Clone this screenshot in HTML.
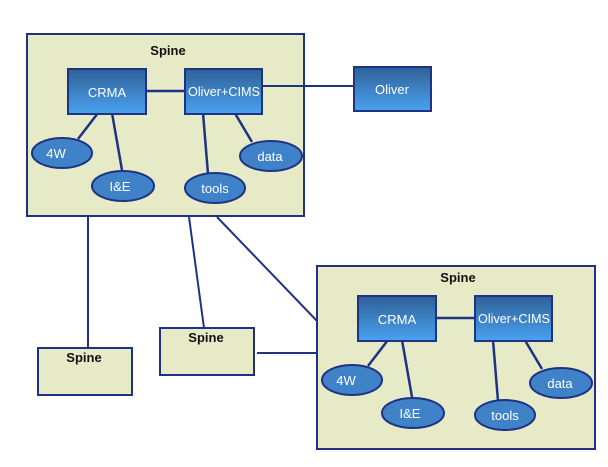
<!DOCTYPE html>
<html><head><style>body{margin:0;background:#fff}svg{display:block}</style></head><body>
<svg width="608" height="467" viewBox="0 0 608 467" xmlns="http://www.w3.org/2000/svg" font-family="Liberation Sans, sans-serif">
<defs>
<linearGradient id="g" x1="0" y1="0" x2="0" y2="1"><stop offset="0" stop-color="#2f6098"/><stop offset="1" stop-color="#4aa2f0"/></linearGradient>
</defs>
<g stroke="#1f3384" stroke-width="2" fill="none">
<line x1="88" y1="216" x2="88" y2="349"/>
<line x1="189" y1="217" x2="204" y2="328"/>
<line x1="217" y1="217" x2="318" y2="322"/>
<line x1="257" y1="353" x2="318" y2="353"/>
</g>
<g stroke="#1f3384" stroke-width="2" fill="#e7eac7">
<rect x="27" y="34" width="277" height="182"/>
<rect x="317" y="266" width="278" height="183"/>
<rect x="38" y="348" width="94" height="47"/>
<rect x="160" y="328" width="94" height="47"/>
</g>
<g font-weight="bold" font-size="13" text-anchor="middle" fill="#111">
<text x="168" y="55">Spine</text>
<text x="458" y="282">Spine</text>
<text x="84" y="362">Spine</text>
<text x="206" y="342">Spine</text>
</g>
<line x1="262" y1="86" x2="354" y2="86" stroke="#1f3384" stroke-width="2"/>
<rect x="354" y="67" width="77" height="44" fill="url(#g)" stroke="#1f3384" stroke-width="2"/>
<text x="392" y="94" text-anchor="middle" font-size="13" fill="#fff">Oliver</text>
<g id="c">
<g stroke="#1f3384" stroke-width="2.5">
<line x1="146" y1="91" x2="185" y2="91"/>
<line x1="98" y1="113" x2="78" y2="139"/>
<line x1="112" y1="113" x2="122" y2="170"/>
<line x1="203" y1="113" x2="208" y2="174"/>
<line x1="233" y1="110" x2="252" y2="142"/>
</g>
<rect x="68" y="69" width="78" height="45" fill="url(#g)" stroke="#1f3384" stroke-width="2"/>
<rect x="185" y="69" width="77" height="45" fill="url(#g)" stroke="#1f3384" stroke-width="2"/>
<g fill="#3f82c8" stroke="#1f3384" stroke-width="2">
<ellipse cx="62" cy="153" rx="30" ry="15"/>
<ellipse cx="123" cy="186" rx="31" ry="15"/>
<ellipse cx="215" cy="188" rx="30" ry="15"/>
<ellipse cx="271" cy="156" rx="31" ry="15"/>
</g>
<g fill="#fff" font-size="13" text-anchor="middle">
<text x="107" y="97">CRMA</text>
<text x="224" y="96" textLength="72" lengthAdjust="spacingAndGlyphs">Oliver+CIMS</text>
<text x="56" y="158">4W</text>
<text x="120" y="191">I&amp;E</text>
<text x="215" y="193">tools</text>
<text x="270" y="161">data</text>
</g>
</g>
<use href="#c" transform="translate(290,227)"/>
</svg>
</body></html>
